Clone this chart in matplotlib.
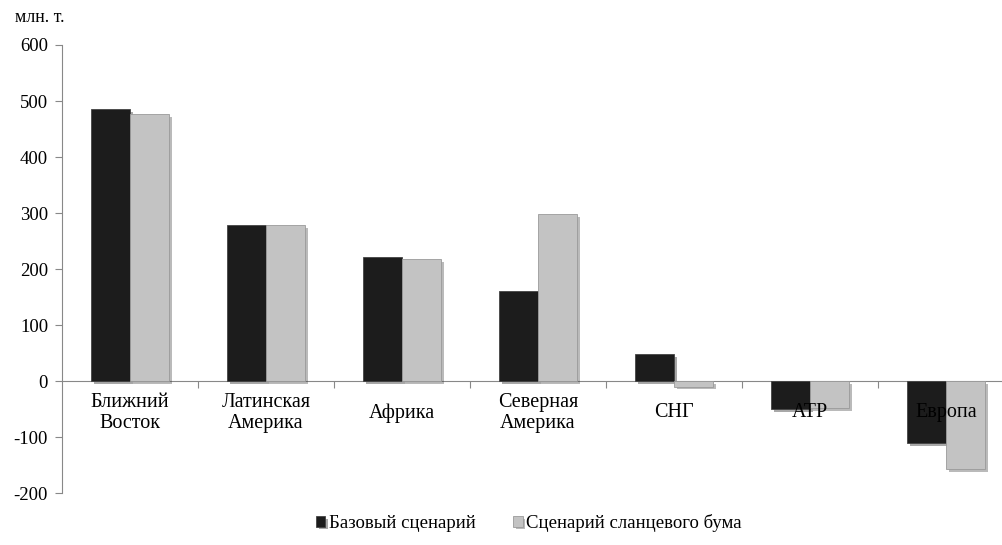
import numpy as np
import matplotlib
matplotlib.use('Agg')
import matplotlib.pyplot as plt
import matplotlib.patheffects as pe

plt.rcParams['font.family'] = ['Liberation Serif', 'DejaVu Serif']
plt.rcParams['axes.unicode_minus'] = False

# Data
regions = ['Ближний\nВосток', 'Латинская\nАмерика', 'Африка', 'Северная\nАмерика',
           'СНГ', 'АТР', 'Европа']
base = [486, 279, 221, 161, 48, -50, -111]
shale = [477, 279, 218, 298, -10, -48, -157]
series_names = ['Базовый сценарий', 'Сценарий сланцевого бума']
y_ticks = [-200, -100, 0, 100, 200, 300, 400, 500, 600]

W, H = 1002, 545
fig = plt.figure(figsize=(W / 100, H / 100), dpi=100)
# axes spans x 62..1014 px (right end beyond the image), y 45..493 px
ax = fig.add_axes([62 / W, (H - 493) / H, 952 / W, 448 / H])

x = np.arange(len(regions))
bw = 0.287
shadow = [pe.SimplePatchShadow(offset=(2, -2), alpha=0.35), pe.Normal()]
b1 = ax.bar(x - bw / 2, base, bw, color='#1c1c1c', edgecolor='#444444', linewidth=0.6,
            label=series_names[0], path_effects=shadow, zorder=3)
b2 = ax.bar(x + bw / 2, shale, bw, color='#c3c3c3', edgecolor='#9a9a9a', linewidth=0.6,
            label=series_names[1], path_effects=shadow, zorder=3)

ax.set_xlim(-0.5, len(regions) - 0.5)
ax.set_ylim(-200, 600)
ax.set_yticks(y_ticks)
ax.tick_params(axis='y', direction='out', length=5, width=0.8, color='#888888',
               labelsize=13.5, pad=5)

for s in ['top', 'right']:
    ax.spines[s].set_visible(False)
ax.spines['left'].set_color('#888888')
ax.spines['bottom'].set_position(('data', 0))
ax.spines['bottom'].set_color('#888888')
ax.set_xticks(np.arange(0.5, len(regions) - 0.5, 1))
ax.set_xticklabels([])
ax.tick_params(axis='x', direction='out', length=5, width=0.8, color='#888888')

for i, name in enumerate(regions):
    ax.text(i, -57, name, ha='center', va='center', fontsize=14.5, zorder=5,
            linespacing=1.15)

fig.text(15 / W, 1 - 18 / H, 'млн. т.', fontsize=13, va='center', ha='left')

leg = fig.legend(handles=[b1, b2], labels=series_names, loc='center',
                 bbox_to_anchor=(529 / W, 1 - 523 / H), ncol=2, frameon=False,
                 fontsize=13.5, handlelength=0.5, handleheight=0.5, handletextpad=0.2,
                 columnspacing=2.0)

fig.savefig('out.png', dpi=100, facecolor='white')
